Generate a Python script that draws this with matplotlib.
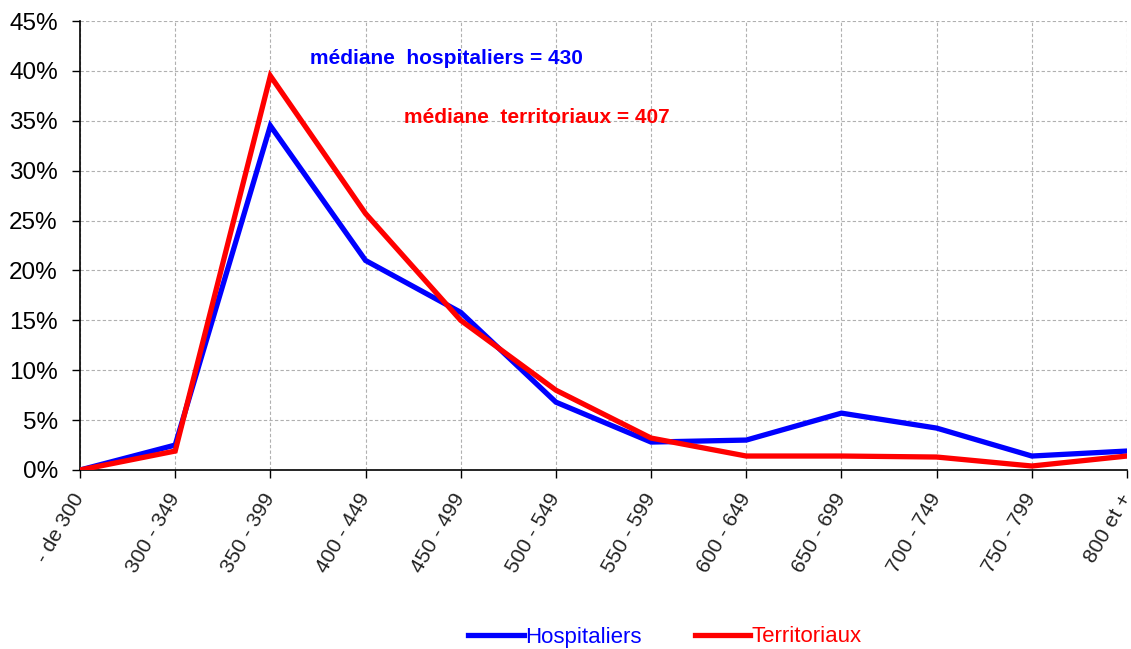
import matplotlib
matplotlib.use("Agg")
import matplotlib.pyplot as plt
from matplotlib.ticker import FuncFormatter

categories = ["- de 300", "300 - 349", "350 - 399", "400 - 449", "450 - 499", "500 - 549",
              "550 - 599", "600 - 649", "650 - 699", "700 - 749", "750 - 799", "800 et +"]
hospitaliers = [0.0, 2.5, 34.5, 21.0, 15.8, 6.8, 2.8, 3.0, 5.7, 4.2, 1.4, 1.9]
territoriaux = [0.0, 1.9, 39.5, 25.7, 15.0, 8.0, 3.2, 1.4, 1.4, 1.3, 0.4, 1.4]
y_ticks = [0, 5, 10, 15, 20, 25, 30, 35, 40, 45]

plt.rcParams['font.family'] = ['Liberation Sans', 'DejaVu Sans']

fig = plt.figure(figsize=(11.31, 6.49), dpi=100)
ax = fig.add_axes([80/1131, (649-470)/649, (1127-80)/1131, 449/649])

x = list(range(len(categories)))
ax.plot(x, hospitaliers, color="#0000FF", lw=3.8, label="Hospitaliers", solid_joinstyle='miter', zorder=3)
ax.plot(x, territoriaux, color="#FF0000", lw=3.8, label="Territoriaux", solid_joinstyle='miter', zorder=4)

ax.set_xlim(0, len(categories) - 1)
ax.set_ylim(0, 45)
ax.set_yticks(y_ticks)
ax.yaxis.set_major_formatter(FuncFormatter(lambda v, p: f"{int(v)}%"))
ax.set_xticks(x)
ax.set_xticklabels(categories, rotation=60, ha='right', va='center', rotation_mode='anchor')

ax.grid(True, color="#b0b0b0", linestyle=(0, (3, 2)), linewidth=0.8)
ax.set_axisbelow(True)
for s in ["top", "right"]:
    ax.spines[s].set_visible(False)
for s in ["left", "bottom"]:
    ax.spines[s].set_color("black")
    ax.spines[s].set_linewidth(1.2)

ax.tick_params(axis='y', labelsize=17.5, length=6, width=1, pad=10, colors='black')
ax.tick_params(axis='x', labelsize=15, length=6, width=1, pad=12, colors='black')
for lbl in ax.get_xticklabels():
    lbl.set_color('#222222')

ax.text(2.42, 41.2, "médiane  hospitaliers = 430", color="#0000FF", fontsize=15,
        fontweight='bold', va='center', ha='left')
ax.text(3.40, 35.3, "médiane  territoriaux = 407", color="#FF0000", fontsize=15,
        fontweight='bold', va='center', ha='left')

fig.legend(loc='center', bbox_to_anchor=(665/1131, 1 - 637/649), ncol=2, frameon=False,
           fontsize=16, labelcolor='linecolor', handlelength=2.5, handletextpad=0.05,
           columnspacing=2.4)

fig.savefig("out.png", dpi=100)
